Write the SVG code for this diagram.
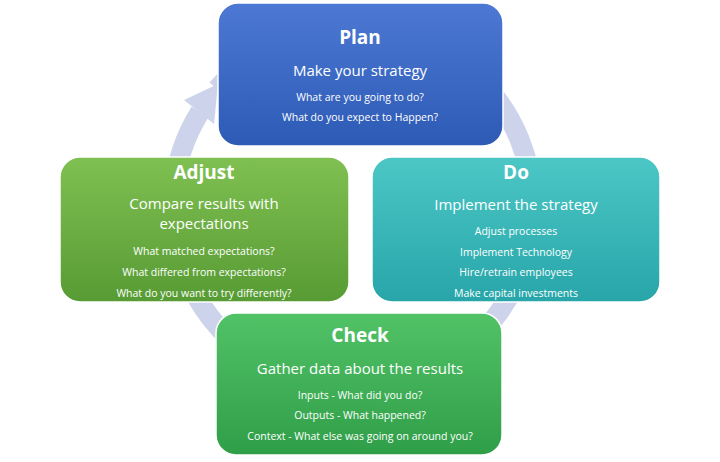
<svg xmlns="http://www.w3.org/2000/svg" width="720" height="462" viewBox="0 0 720 462">
<style>
text{font-family:"Open Sans","Liberation Sans",sans-serif;fill:#fff;text-anchor:middle}
.t{font-size:19px;font-weight:bold}
.s{font-size:15px}
.q{font-size:10.5px}
.box{stroke:#fff;stroke-width:1.5}
</style>
<defs>
<linearGradient id="gp" x1="0" y1="0" x2="0" y2="1"><stop offset="0" stop-color="#4d79d4"/><stop offset="1" stop-color="#2c5ab4"/></linearGradient>
<linearGradient id="gd" x1="0" y1="0" x2="0" y2="1"><stop offset="0" stop-color="#4cc7c6"/><stop offset="1" stop-color="#27a5a9"/></linearGradient>
<linearGradient id="ga" x1="0" y1="0" x2="0" y2="1"><stop offset="0" stop-color="#80c052"/><stop offset="1" stop-color="#579b34"/></linearGradient>
<linearGradient id="gc" x1="0" y1="0" x2="0" y2="1"><stop offset="0" stop-color="#52c267"/><stop offset="1" stop-color="#2f9e48"/></linearGradient>
</defs>
<rect width="720" height="462" fill="#fff"/>
<g id="connectors">
<path d="M 217,89 A 180,180 0 1 1 200,112" fill="none" stroke="#cdd3ea" stroke-width="20"/>
<polygon points="184,100 218,84 214,124" fill="#cdd3ea"/>
</g>
<g id="plan">
<rect class="box" x="218" y="3" width="285" height="143" rx="20" fill="url(#gp)"/>
<text class="t" x="360" y="44">Plan</text>
<text class="s" x="360" y="76">Make your strategy</text>
<text class="q" x="360" y="101">What are you going to do?</text>
<text class="q" x="360" y="121">What do you expect to Happen?</text>
</g>
<g id="do">
<rect class="box" x="372" y="157" width="288" height="145" rx="20" fill="url(#gd)"/>
<text class="t" x="516" y="179">Do</text>
<text class="s" x="516" y="210">Implement the strategy</text>
<text class="q" x="516" y="235">Adjust processes</text>
<text class="q" x="516" y="256">Implement Technology</text>
<text class="q" x="516" y="276">Hire/retrain employees</text>
<text class="q" x="516" y="297">Make capital investments</text>
</g>
<g id="adjust">
<rect class="box" x="60" y="157" width="289" height="145" rx="20" fill="url(#ga)"/>
<text class="t" x="204" y="179">Adjust</text>
<text class="s" x="204" y="209">Compare results with</text>
<text class="s" x="204" y="229">expectations</text>
<text class="q" x="204" y="255">What matched expectations?</text>
<text class="q" x="204" y="276">What differed from expectations?</text>
<text class="q" x="204" y="297">What do you want to try differently?</text>
</g>
<g id="check">
<rect class="box" x="216" y="313" width="286" height="142" rx="20" fill="url(#gc)"/>
<text class="t" x="360" y="342">Check</text>
<text class="s" x="360" y="374">Gather data about the results</text>
<text class="q" x="360" y="399">Inputs - What did you do?</text>
<text class="q" x="360" y="419">Outputs - What happened?</text>
<text class="q" x="360" y="440">Context - What else was going on around you?</text>
</g>
</svg>
